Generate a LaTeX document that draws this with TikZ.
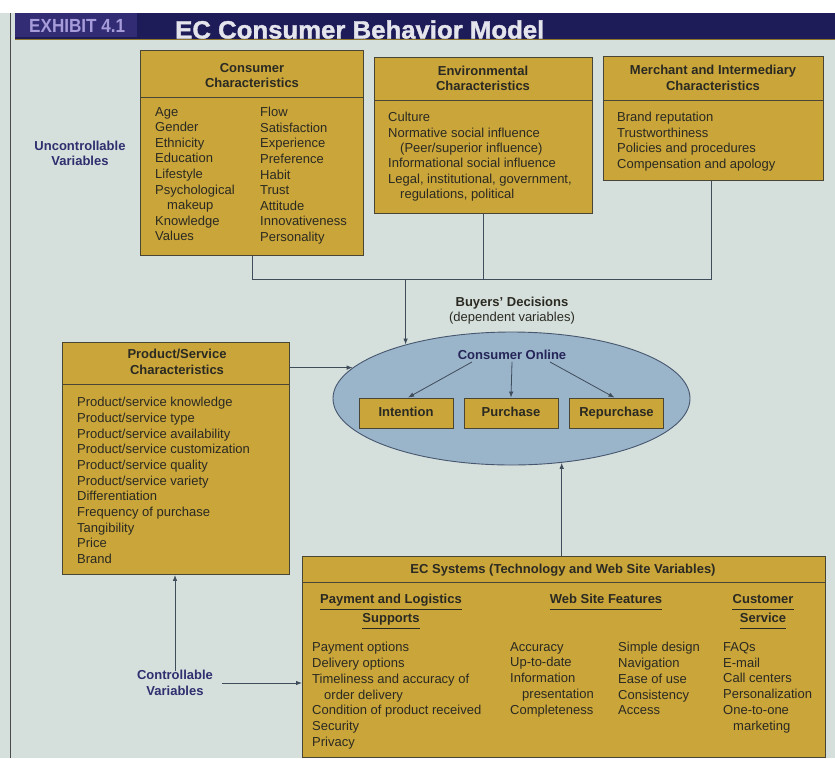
\documentclass[tikz,border=0pt]{standalone}
\usepackage{fontspec}
\setmainfont{Liberation Sans}
\newfontfamily\heavyfont[FakeBold=1.5]{Liberation Sans Bold}
\usetikzlibrary{shapes.geometric,arrows.meta}
\definecolor{bg}{HTML}{D5E0DC}
\definecolor{navy}{HTML}{1E1C58}
\definecolor{exhbg}{HTML}{312C74}
\definecolor{gold}{HTML}{C9A53A}
\definecolor{edge}{HTML}{4A4636}
\definecolor{ink}{HTML}{2B2A22}
\definecolor{vlabel}{HTML}{2E2F6E}
\definecolor{ellfill}{HTML}{9AB4CA}
\definecolor{elledge}{HTML}{46566E}
\definecolor{lav}{HTML}{A79CDA}
\definecolor{conn}{HTML}{3F4C5A}
\definecolor{ttlw}{HTML}{E4E4EC}
\tikzset{
  box/.style={draw=edge, fill=gold, line width=0.9pt, inner sep=0, anchor=north west},
  hdr/.style={font=\fontsize{13}{15.5}\selectfont\bfseries, text=ink, align=center, inner sep=0},
  item/.style={font=\fontsize{13}{15.6}\selectfont, text=ink, align=left, inner sep=0, anchor=north west},
  sub/.style={font=\fontsize{13}{15.5}\selectfont\bfseries, text=ink, inner sep=0, text height=9.5pt, text depth=5.5pt},
  sepline/.style={draw=edge, line width=0.9pt},
  ulline/.style={draw=ink, line width=0.8pt},
  conn/.style={draw=conn, line width=0.8pt},
  arr/.style={conn, -{Latex[length=6pt,width=4.5pt]}},
  vlab/.style={font=\fontsize{13}{15.5}\selectfont\bfseries, text=vlabel, align=center, inner sep=0},
  ibox/.style={draw=edge, fill=gold, line width=0.9pt, minimum width=94pt, minimum height=30pt, inner sep=0, text height=9.5pt, text depth=3pt, font=\fontsize{13}{15.5}\selectfont\bfseries, text=ink},
}
\begin{document}
\begin{tikzpicture}[x=1pt,y=-1pt]
\useasboundingbox (0,0) rectangle (835,758);
\fill[bg] (0,0) rectangle (835,758);
\fill[white] (0,0) rectangle (835,13);
\draw[gray!60!black, line width=1pt] (10,13) -- (10,758);
% title bar
\fill[navy] (15,13) rectangle (835,39);
\fill[exhbg] (15,13) rectangle (137,37);
\draw[gold!70!black, line width=1.2pt] (15,39.5) -- (835,39.5);
\node[anchor=base west, font=\fontsize{19}{19}\selectfont\bfseries, text=lav, inner sep=0] (exh) at (29,32) {\scalebox{0.9}[1]{EXHIBIT 4.1}};
\node[anchor=base west, font=\fontsize{25}{25}\selectfont\heavyfont, text=ttlw, inner sep=0] (ttl) at (175,38.5) {\scalebox{1.03}[1]{EC Consumer Behavior Model}};

% Consumer characteristics
\node[box, minimum width=223pt, minimum height=205pt] (cc) at (140,50) {};
\draw[sepline] ([yshift=-47pt]cc.north west) -- ([yshift=-47pt]cc.north east);
\node[hdr] (cch) at (252,75.5) {Consumer\\Characteristics};
\node[item] (cc1) at (155,107) {Age\\Gender\\Ethnicity\\Education\\Lifestyle\\Psychological\\\hspace*{12pt}makeup\\Knowledge\\Values};
\node[item] (cc2) at (260,107) {Flow\\Satisfaction\\Experience\\Preference\\Habit\\Trust\\Attitude\\Innovativeness\\Personality};

% Environmental characteristics
\node[box, minimum width=218pt, minimum height=156pt] (env) at (374,57) {};
\draw[sepline] ([yshift=-43pt]env.north west) -- ([yshift=-43pt]env.north east);
\node[hdr] (envh) at (483,78.5) {Environmental\\Characteristics};
\node[item, font=\fontsize{13}{15.4}\selectfont] (env1) at (388,112) {Culture\\Normative social influence\\\hspace*{12pt}(Peer/superior influence)\\Informational social influence\\Legal, institutional, government,\\\hspace*{12pt}regulations, political};

% Merchant characteristics
\node[box, minimum width=220pt, minimum height=124pt] (mc) at (603,56) {};
\draw[sepline] ([yshift=-44pt]mc.north west) -- ([yshift=-44pt]mc.north east);
\node[hdr] (mch) at (713,78) {Merchant and Intermediary\\Characteristics};
\node[item] (mc1) at (617,112) {Brand reputation\\Trustworthiness\\Policies and procedures\\Compensation and apology};

\node[vlab] (uv) at (80,153.5) {Uncontrollable\\Variables};

% Product/service characteristics
\node[box, minimum width=227pt, minimum height=232pt] (pbox) at (62,342) {};
\draw[sepline] ([yshift=-42pt]pbox.north west) -- ([yshift=-42pt]pbox.north east);
\node[hdr] (pboxh) at (177,362) {Product/Service\\Characteristics};
\node[item, font=\fontsize{13}{15.7}\selectfont] (pb1) at (77,397) {Product/service knowledge\\Product/service type\\Product/service availability\\Product/service customization\\Product/service quality\\Product/service variety\\Differentiation\\Frequency of purchase\\Tangibility\\Price\\Brand};

% Buyers' decisions
\node[font=\fontsize{13}{15.5}\selectfont\bfseries, text=ink, inner sep=0] (bd) at (512,303) {Buyers' Decisions};
\node[font=\fontsize{13}{15.5}\selectfont, text=ink, inner sep=0] (dv) at (512,318.5) {(dependent variables)};
\node[ellipse, draw=elledge, fill=ellfill, line width=0.9pt, minimum width=357pt, minimum height=133pt, inner sep=0] (ell) at (511.5,398.5) {};
\node[font=\fontsize{13}{15.5}\selectfont\bfseries, text=vlabel!80!black, inner sep=2pt] (co) at (512,355) {Consumer Online};
\node[ibox] (int) at (406,413) {Intention};
\node[ibox] (pur) at (511,413) {Purchase};
\node[ibox] (rep) at (616.5,413) {Repurchase};
\draw[arr] ([xshift=-40pt]co.south) -- ([xshift=2pt]int.north);
\draw[arr] (co.south) -- (pur.north);
\draw[arr] ([xshift=38pt]co.south) -- ([xshift=-2pt]rep.north);

% EC systems
\node[box, minimum width=523pt, minimum height=201pt] (ec) at (302,556) {};
\draw[sepline] ([yshift=-26pt]ec.north west) -- ([yshift=-26pt]ec.north east);
\node[hdr] (ech) at (563,570.5) {EC Systems (Technology and Web Site Variables)};
\node[sub] (pl1) at (391,601.7) {Payment and Logistics};
\node[sub] (pl2) at (391,620.7) {Supports};
\node[sub] (wsf) at (606,601.7) {Web Site Features};
\node[sub] (cs1) at (763,601.7) {Customer};
\node[sub] (cs2) at (763,620.7) {Service};
\foreach \n in {pl1,pl2,wsf,cs1,cs2}{\draw[ulline] (\n.south west) -- (\n.south east);}
\node[item, font=\fontsize{13}{15.8}\selectfont] (ec1) at (312,642) {Payment options\\Delivery options\\Timeliness and accuracy of\\\hspace*{12pt}order delivery\\Condition of product received\\Security\\Privacy};
\node[item, font=\fontsize{13}{15.8}\selectfont] (ec2) at (510,642) {Accuracy\\Up-to-date\\Information\\\hspace*{12pt}presentation\\Completeness};
\node[item, font=\fontsize{13}{15.8}\selectfont] (ec3) at (618,642) {Simple design\\Navigation\\Ease of use\\Consistency\\Access};
\node[item, font=\fontsize{13}{15.8}\selectfont] (ec4) at (723,642) {FAQs\\E-mail\\Call centers\\Personalization\\One-to-one\\\hspace*{10pt}marketing};

\node[vlab] (cv) at (175,683) {Controllable\\Variables};

% connectors
\coordinate (hl) at (0,279);
\draw[conn] (cc.south) -- (cc.south |- hl) -- ([xshift=-2pt]mc.south |- hl) -- ([xshift=-2pt]mc.south);
\draw[conn] (env.south) -- (env.south |- hl);
\draw[arr] (ell.153.7 |- hl) -- (ell.153.7);
\draw[arr] (pbox.east |- ell.169.1) -- (ell.169.1);
\draw[arr] (ell.308.4 |- ec.north) -- (ell.308.4);
\draw[arr] ([yshift=-1pt]cv.north) -- (cv.north |- pbox.south);
\draw[arr] ([xshift=9pt]cv.east) -- (cv.east -| ec.west);
\end{tikzpicture}
\end{document}
